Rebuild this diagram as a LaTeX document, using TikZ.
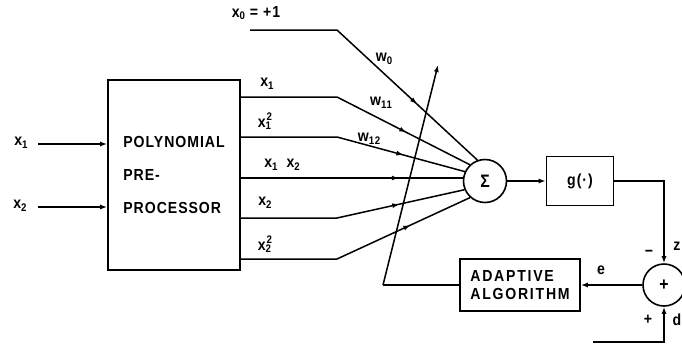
\documentclass[tikz,border=0pt]{standalone}
\usepackage{fontspec}
\setmainfont[LetterSpace=6, FakeStretch=0.88, UprightFont={* Bold}]{Liberation Sans}
\usetikzlibrary{arrows.meta, positioning, decorations.markings}
\newcommand{\sbs}[1]{\raisebox{-2.5pt}{\fontsize{11}{11}\selectfont #1}}
\newcommand{\sps}[1]{\raisebox{7pt}{\fontsize{11}{11}\selectfont #1}}
\newcommand{\xsq}[1]{x\rlap{\sbs{#1}}\kern1pt\sps{2}}
\tikzset{
  block/.style={draw, line width=1.6pt, align=left, inner sep=0pt},
  summer/.style={draw, circle, line width=1.6pt, minimum size=43pt, inner sep=0pt, font=\fontsize{18}{18}\selectfont},
  wire/.style={line width=1.5pt},
  arrow/.style={wire, -{Latex[length=7pt, width=5pt]}},
  wt/.style={wire, postaction={decorate}, decoration={markings, mark=at position #1 with {\arrow{Latex[length=7pt, width=5pt]}}}},
  lbl/.style={inner sep=1pt, font=\fontsize{16}{16}\selectfont},
  sign/.style={inner sep=1pt, font=\fontsize{16}{16}\selectfont}
}
\begin{document}
\begin{tikzpicture}[x=1pt, y=-1pt]
    \useasboundingbox (0,0) rectangle (682,349);
    % blocks
    \node[block, minimum width=132pt, minimum height=190pt, font=\fontsize{16}{33}\selectfont] (pre) at (174,175) {POLYNOMIAL\\PRE-\\PROCESSOR};
    \node[summer] (sig) at (485,181) {Σ};
    \node[block, align=center, minimum width=67pt, minimum height=49pt, font=\fontsize{16}{16}\selectfont] (g) at (580,181) {g(·)};
    \node[block, minimum width=120pt, minimum height=52pt, font=\fontsize{16}{18}\selectfont\addfontfeatures{LetterSpace=11}] (adapt) at (520,285) {ADAPTIVE\\ALGORITHM};
    \node[summer, minimum size=42pt] (sum) at (664,285) {+};
    % inputs
    \node[lbl] (in1) at (21,143) {x\sbs{1}};
    \node[lbl] (in2) at (20,206) {x\sbs{2}};
    \coordinate (in1s) at (38,144);
    \coordinate (in2s) at (38,207);
    \draw[arrow] (in1s) -- (in1s -| pre.west);
    \draw[arrow] (in2s) -- (in2s -| pre.west);
    % bends of the expanded terms
    \coordinate (b0) at (337,30);
    \coordinate (b1) at (337,97);
    \coordinate (b2) at (337,137);
    \coordinate (b3) at (337,178);
    \coordinate (b4) at (337,218);
    \coordinate (b5) at (337,259);
    \coordinate (x0s) at (250,30);
    \draw[wt=196pt] (x0s) -- (b0) -- (sig.110);
    \draw[wt=174pt] (b1 -| pre.east) -- (b1) -- (sig.133);
    \draw[wt=165pt] (b2 -| pre.east) -- (b2) -- (sig.155);
    \draw[wt=158pt] (b3 -| pre.east) -- (b3 -| sig.west);
    \draw[wt=160pt] (b4 -| pre.east) -- (b4) -- (sig.203);
    \draw[wt=177pt] (b5 -| pre.east) -- (b5) -- (sig.228);
    \node[lbl] (x0) at (256,13) {x\sbs{0} = +1};
    \node[lbl] (t1) at (267,84) {x\sbs{1}};
    \node[lbl] (t2) at (265,121) {\xsq{1}};
    \node[lbl] (t3) at (282,165) {x\sbs{1}\hspace{9pt}x\sbs{2}};
    \node[lbl] (t4) at (265,203) {x\sbs{2}};
    \node[lbl] (t5) at (265,244) {\xsq{2}};
    \node[lbl] (w0) at (384,59) {w\sbs{0}};
    \node[lbl] (w11) at (381,103) {w\sbs{11}};
    \node[lbl] (w12) at (369,139) {w\sbs{12}};
    % output and error loop
    \draw[arrow] (sig) -- (g);
    \draw[arrow] (g.east) -| (sum.north);
    \draw[arrow] (sum.west) -- (adapt.east);
    \coordinate (dsrc) at (593,342);
    \draw[arrow] (dsrc) -| (sum.south);
    \coordinate (wbot) at (383,285);
    \coordinate (wtop) at (438,65);
    \draw[wire] (adapt.west) -- (wbot);
    \draw[arrow] (wbot) -- (wtop);
    \node[sign] (zm) at (649,253) {−};
    \node[lbl] (z) at (677,246) {z};
    \node[lbl] (e) at (601,270) {e};
    \node[sign] (dp) at (648,320) {+};
    \node[lbl] (d) at (677,320) {d};
\end{tikzpicture}
\end{document}
